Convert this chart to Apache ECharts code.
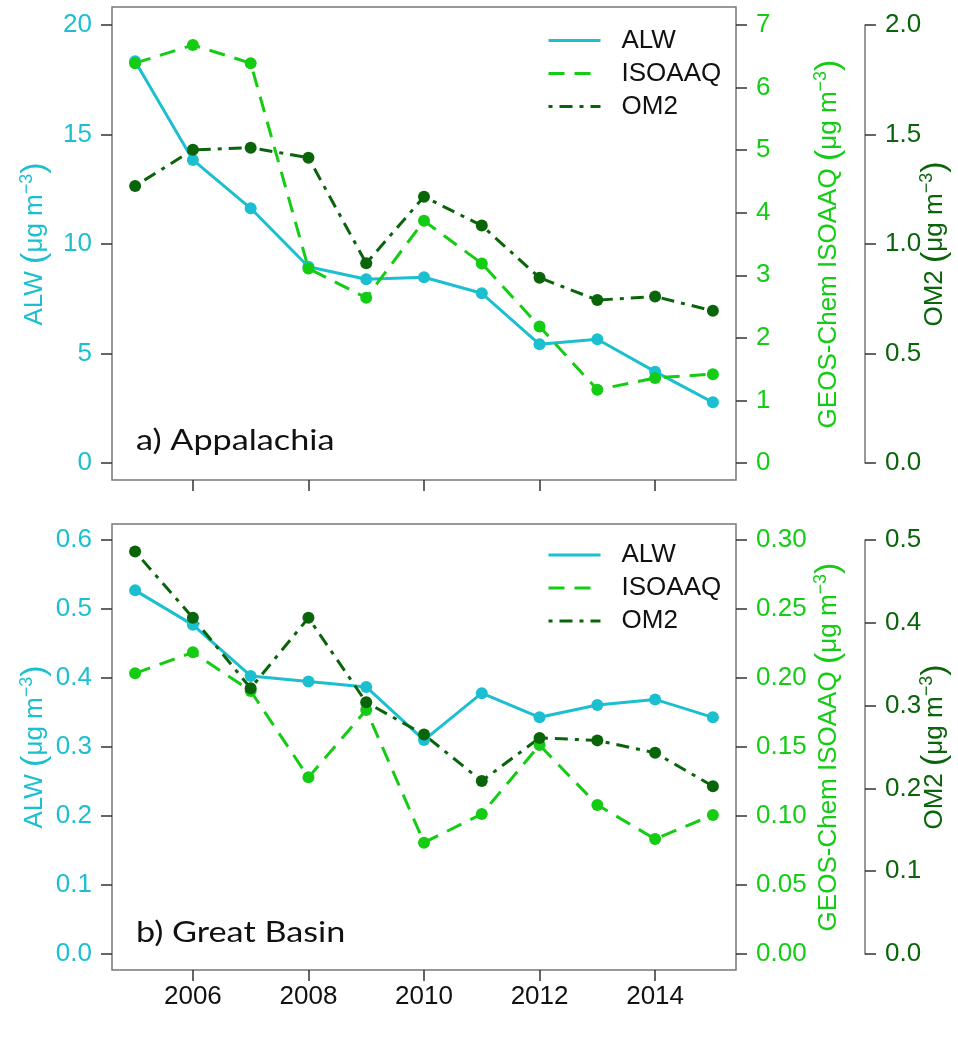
<!DOCTYPE html>
<html>
<head>
<meta charset="utf-8">
<script src="https://cdn.jsdelivr.net/npm/echarts@6/dist/echarts.min.js"></script>
<style>
  html, body { margin: 0; padding: 0; background: #fff; }
  #main { width: 958px; height: 1044px; }
</style>
</head>
<body>
<div id="main"></div>
<script>
// years on the x axis, ticks only on even years
var years = [2005, 2006, 2007, 2008, 2009, 2010, 2011, 2012, 2013, 2014, 2015];
var xTicks = [2006, 2008, 2010, 2012, 2014];

// a) Appalachia
var alwA = [18.35, 13.84, 11.63, 8.96, 8.39, 8.48, 7.75, 5.42, 5.65, 4.17, 2.77];
var isoA = [6.39, 6.68, 6.39, 3.11, 2.64, 3.87, 3.19, 2.18, 1.17, 1.36, 1.42];
var om2A = [1.265, 1.43, 1.44, 1.394, 0.912, 1.216, 1.084, 0.846, 0.744, 0.76, 0.695];

// b) Great Basin
var alwB = [0.527, 0.477, 0.403, 0.395, 0.387, 0.310, 0.378, 0.343, 0.361, 0.369, 0.343];
var isoB = [0.2034, 0.2186, 0.1906, 0.128, 0.1768, 0.0807, 0.1014, 0.1514, 0.108, 0.0833, 0.1007];
var om2B = [0.486, 0.406, 0.321, 0.406, 0.304, 0.265, 0.209, 0.261, 0.258, 0.243, 0.2026];

var names = ['ALW', 'ISOAAQ', 'OM2'];

var cALW = '#1cbfcf';
var cISO = '#14cc14';
var cOM2 = '#0a640a';
var tickCol = '#333';
var boxCol = '#777';
var font = '"Liberation Sans", Arial, sans-serif';
var fs = 26;

var myChart = echarts.init(document.getElementById('main'));

function pairs(arr) {
    return years.map(function (y, i) { return [y, arr[i]]; });
}

function line(name, arr, color, dash, xi, yi) {
    return {
        name: name,
        type: 'line',
        xAxisIndex: xi,
        yAxisIndex: yi,
        data: pairs(arr),
        symbol: 'circle',
        symbolSize: 12,
        lineStyle: { color: color, width: 3, type: dash },
        itemStyle: { color: color },
        emphasis: { disabled: true }
    };
}

// axis title with superscript -3
function unitName(label) {
    return label + ' {p|(}\u03bcg m{s|\u22123}{p|)}';
}
function nameStyle(color) {
    return {
        fontSize: fs,
        fontFamily: font,
        color: color,
        rich: {
            p: { fontSize: 34, color: color, fontFamily: font },
            s: { fontSize: 18, color: color, fontFamily: font, verticalAlign: 'top' }
        }
    };
}

function yAxisCfg(grid, pos, offset, min, max, interval, color, label, digits, gap, showLine) {
    return {
        type: 'value',
        gridIndex: grid,
        position: pos,
        offset: offset,
        min: min,
        max: max,
        interval: interval,
        name: unitName(label),
        nameLocation: 'middle',
        nameRotate: 90,
        nameGap: gap,
        nameMoveOverlap: false,
        nameTextStyle: nameStyle(color),
        axisLine: { show: showLine, lineStyle: { color: boxCol, width: 1.5 } },
        axisTick: { show: true, length: 11, lineStyle: { color: tickCol, width: 1.5 } },
        splitLine: { show: false },
        axisLabel: {
            fontSize: fs,
            fontFamily: font,
            color: color,
            margin: 20,
            formatter: function (v) { return v.toFixed(digits); }
        }
    };
}

var panels = [
    { top: 7, height: 473, dataTop: 25, dataHeight: 438 },
    { top: 524, height: 446, dataTop: 540, dataHeight: 414 }
];

var grids = [];
panels.forEach(function (p) {
    // plot box
    grids.push({ left: 112, width: 624, top: p.top, height: p.height, show: true,
                 borderColor: boxCol, borderWidth: 1.5, backgroundColor: 'transparent',
                 containLabel: false, outerBoundsMode: 'none' });
    // data area (axis range without R's 4% padding)
    grids.push({ left: 112, width: 624, top: p.dataTop, height: p.dataHeight,
                 containLabel: false, outerBoundsMode: 'none' });
});

var xAxes = [];
[0, 1].forEach(function (k) {
    xAxes.push({
        type: 'value', gridIndex: 2 * k, min: 2004.6, max: 2015.4,
        axisLine: { show: false },
        splitLine: { show: false },
        axisTick: { show: true, customValues: xTicks, length: 11, lineStyle: { color: tickCol, width: 1.5 } },
        axisLabel: { show: k === 1, customValues: xTicks, fontSize: fs, fontFamily: font, color: '#111', margin: 14,
                     formatter: function (v) { return String(v); } }
    });
    xAxes.push({ type: 'value', gridIndex: 2 * k + 1, min: 2004.6, max: 2015.4,
                 axisLine: { show: false }, axisTick: { show: false }, axisLabel: { show: false },
                 splitLine: { show: false } });
});

var yAxes = [
    { type: 'value', gridIndex: 0, show: false, min: 0, max: 1 },
    yAxisCfg(1, 'left', 0, 0, 20, 5, cALW, 'ALW', 0, 60, false),
    yAxisCfg(1, 'right', 0, 0, 7, 1, cISO, 'GEOS-Chem ISOAAQ', 0, 76, false),
    yAxisCfg(1, 'right', 129, 0, 2, 0.5, cOM2, 'OM2', 1, 53, true),
    { type: 'value', gridIndex: 2, show: false, min: 0, max: 1 },
    yAxisCfg(3, 'left', 0, 0, 0.6, 0.1, cALW, 'ALW', 1, 60, false),
    yAxisCfg(3, 'right', 0, 0, 0.3, 0.05, cISO, 'GEOS-Chem ISOAAQ', 2, 76, false),
    yAxisCfg(3, 'right', 129, 0, 0.5, 0.1, cOM2, 'OM2', 1, 53, true)
];

var dashISO = [16, 10];
var dashOM2 = [4, 7, 13, 7];

var series = [
    line('ALW', alwA, cALW, 'solid', 1, 1),
    line('ISOAAQ', isoA, cISO, dashISO, 1, 2),
    line('OM2', om2A, cOM2, dashOM2, 1, 3),
    line('ALW', alwB, cALW, 'solid', 3, 5),
    line('ISOAAQ', isoB, cISO, dashISO, 3, 6),
    line('OM2', om2B, cOM2, dashOM2, 3, 7)
];

function legendCfg(top) {
    return {
        data: names,
        orient: 'vertical',
        left: 542,
        top: top,
        itemWidth: 52,
        itemHeight: 14,
        itemGap: 7,
        selectedMode: false,
        itemStyle: { opacity: 0 },
        lineStyle: { width: 3 },
        textStyle: { fontSize: fs, lineHeight: 25, fontFamily: font, color: '#111', padding: [0, 0, 0, 16] }
    };
}

myChart.setOption({
    animation: false,
    grid: grids,
    xAxis: xAxes,
    yAxis: yAxes,
    legend: [legendCfg(22.5), legendCfg(537)],
    series: series,
    graphic: [
        { type: 'text', left: 136, top: 426, scaleX: 1.18,
          style: { text: 'a) Appalachia', font: '29px Lato, sans-serif', fill: '#111' } },
        { type: 'text', left: 136, top: 918, scaleX: 1.18,
          style: { text: 'b) Great Basin', font: '29px Lato, sans-serif', fill: '#111' } }
    ]
});
</script>
</body>
</html>
